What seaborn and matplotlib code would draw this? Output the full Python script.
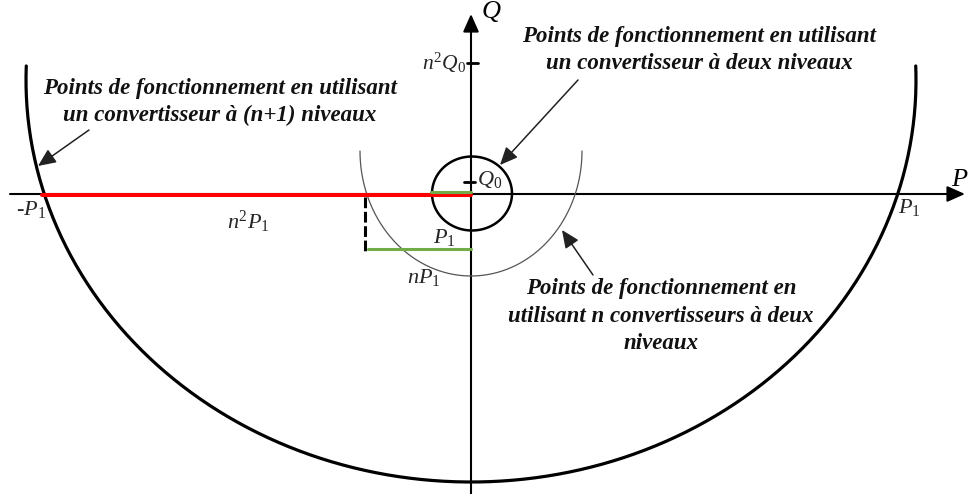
import numpy as np
import pandas as pd
import matplotlib.pyplot as plt
import seaborn as sns

sns.set_theme(style='white')
plt.rcParams['font.family'] = ['Liberation Serif', 'DejaVu Serif']
plt.rcParams['mathtext.fontset'] = 'custom'
plt.rcParams['mathtext.it'] = 'Liberation Serif:italic'
plt.rcParams['mathtext.rm'] = 'Liberation Serif'

#%% diagram values (P, Q plane, origin where the axes cross)
# ellipse: centre P, centre Q, half-width, half-height, start angle, end angle
outer_arc = [0, 114, 445, 402, 178, 362]      # (n+1) level converter
middle_arc = [0, 43, 111, 125, 180, 360]      # n two-level converters
inner_circle = [1, 0.5, 40, 37, 0, 360]       # one two-level converter

red_P = [-429, 0]
red_Q = [-0.5, -0.5]
green_top_P = [-40, 0]
green_top_Q = [2, 2]
green_low_P = [-103, 0]
green_low_Q = [-55, -55]
dash_P = [-106, -106]
dash_Q = [-3, -57]

tick_n2Q0 = 131
tick_Q0 = 12

texts_left = 'Points de fonctionnement en utilisant\nun convertisseur à (n+1) niveaux'
texts_top = 'Points de fonctionnement en utilisant\nun convertisseur à deux niveaux'
texts_bottom = 'Points de fonctionnement en\nutilisant n convertisseurs à deux\nniveaux'


def ellipse(params, n=500):
    cx, cy, a, b, t0, t1 = params
    t = np.radians(np.linspace(t0, t1, n))
    return pd.DataFrame({'P': cx + a * np.cos(t), 'Q': cy + b * np.sin(t)})


fig = plt.figure(figsize=(9.68, 4.94), dpi=100)
ax = fig.add_axes([0, 0, 1, 1])
ax.set_xlim(-471, 497)
ax.set_ylim(-300, 194)
ax.axis('off')

# axes with arrow heads (under the coloured segments)
axis_arrow = dict(arrowstyle='-|>,head_length=0.9,head_width=0.4',
                  lw=1.5, color='black', shrinkA=0, shrinkB=0)
ax.annotate('', xy=(494, 0), xytext=(-461, 0), arrowprops=axis_arrow, zorder=1)
ax.annotate('', xy=(0, 180), xytext=(0, -300), arrowprops=axis_arrow, zorder=1)

# curves
sns.lineplot(data=ellipse(outer_arc), x='P', y='Q', sort=False, estimator=None,
             color='black', lw=2.3, ax=ax)
sns.lineplot(data=ellipse(middle_arc), x='P', y='Q', sort=False, estimator=None,
             color='#555555', lw=0.9, ax=ax)
sns.lineplot(data=ellipse(inner_circle), x='P', y='Q', sort=False, estimator=None,
             color='black', lw=1.8, ax=ax)

# segments
sns.lineplot(x=red_P, y=red_Q, color='#ff0000', lw=2.9, ax=ax)
sns.lineplot(x=green_top_P, y=green_top_Q, color='#70ad47', lw=2.2, ax=ax)
sns.lineplot(x=green_low_P, y=green_low_Q, color='#70ad47', lw=2.2, ax=ax)
ax.plot(dash_P, dash_Q, color='black', lw=2.2, linestyle=(0, (3.5, 1.2)))

# ticks on Q axis
ax.plot([-4, 7], [tick_n2Q0, tick_n2Q0], color='black', lw=2)
ax.plot([-7, 4], [tick_Q0, tick_Q0], color='black', lw=2)

# axis labels
lab = dict(fontstyle='italic', color='black')
ax.text(11, 182, 'Q', fontsize=19, ha='left', va='center', **lab)
ax.text(496, 14, 'P', fontsize=19, ha='right', va='center', **lab)
ax.text(-5, tick_n2Q0, r'$n^{\mathrm{2}}Q_0$', fontsize=15.5, ha='right', va='center')
ax.text(6, 15, r'$Q_0$', fontsize=16, ha='left', va='center')
ax.text(-455, -15, r'-$P_1$', fontsize=16, ha='left', va='center')
ax.text(427, -13, r'$P_1$', fontsize=16, ha='left', va='center')
ax.text(-223, -28, r'$n^{\mathrm{2}}P_1$', fontsize=16, ha='center', va='center')
ax.text(-27, -43, r'$P_1$', fontsize=16, ha='center', va='center')
ax.text(-47, -83, r'$nP_1$', fontsize=16, ha='center', va='center')

# annotations
ann = dict(fontsize=16.5, fontweight='bold', fontstyle='italic', ha='center',
           va='center', linespacing=1.42, color='#111111')
ax.text(-251, 92, texts_left, **ann)
ax.text(228, 144, texts_top, **ann)
ax.text(190, -122, texts_bottom, **ann)

arr = dict(arrowstyle='-|>,head_length=0.9,head_width=0.4', lw=1.1,
           color='#222222', shrinkA=0, shrinkB=0)
ax.annotate('', xy=(-433, 28), xytext=(-382, 64), arrowprops=arr)
ax.annotate('', xy=(29, 29), xytext=(107, 114), arrowprops=arr)
ax.annotate('', xy=(91, -36), xytext=(122, -81), arrowprops=arr)

plt.savefig('out.png', dpi=100)
